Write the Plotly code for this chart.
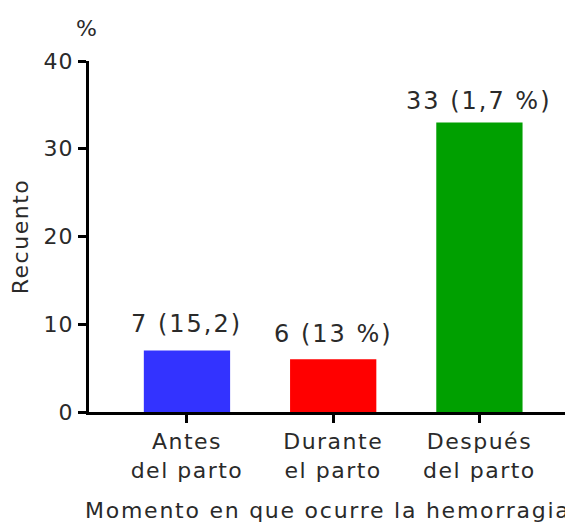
import plotly.graph_objects as go

categories = ["Antes del parto", "Durante el parto", "Después del parto"]
tick_labels = ["Antes<br>del parto", "Durante<br>el parto", "Después<br>del parto"]
counts = [7, 6, 33]
bar_labels = ["7 (15,2)", "6 (13 %)", "33 (1,7 %)"]
colors = ["#3333ff", "#ff0000", "#00a000"]
y_ticks = [0, 10, 20, 30, 40]
x_title = "Momento en que ocurre la hemorragia"
y_title = "Recuento"

FONT = "DejaVu Sans"
TXT = "#2a2a2a"
label_shifts = [11, 9, 5]


def sp(t, px):
    parts = t.split("<br>")
    return "<br>".join('<span style="letter-spacing:%spx">%s</span>' % (px, p) for p in parts)


fig = go.Figure()
fig.add_trace(go.Bar(x=categories, y=counts, marker=dict(color=colors, line=dict(width=0)),
                     width=0.59, showlegend=False, hoverinfo="skip"))

for c, v, t, s in zip(categories, counts, bar_labels, label_shifts):
    fig.add_annotation(x=c, y=v, text=sp(t, 2), showarrow=False, yanchor="bottom", yshift=s,
                       font=dict(family=FONT, size=24, color=TXT))

fig.add_annotation(xref="paper", yref="paper", x=-0.005, y=1.0, text="%", showarrow=False,
                   xanchor="center", yanchor="middle", yshift=33,
                   font=dict(family=FONT, size=22, color=TXT))

fig.add_annotation(xref="paper", yref="paper", x=0.494, y=0, text=sp(x_title, 1.75),
                   showarrow=False, xanchor="center", yanchor="middle", yshift=-98,
                   font=dict(family=FONT, size=22, color=TXT))

fig.update_layout(
    width=565, height=516,
    margin=dict(l=81, r=0, t=53, b=112),
    plot_bgcolor="white", paper_bgcolor="white",
    font=dict(family=FONT, size=22, color=TXT),
    xaxis=dict(range=[-0.67, 2.64], showline=True, linecolor="black", linewidth=3,
               tickmode="array", tickvals=categories, ticktext=[sp(t, 1.5) for t in tick_labels],
               ticks="outside", ticklen=8, tickwidth=3, tickcolor="black",
               showgrid=False, zeroline=False,
               tickfont=dict(family=FONT, size=22, color=TXT)),
    yaxis=dict(range=[0, 40], tickvals=y_ticks, ticktext=[sp(str(v), 1) for v in y_ticks],
               showline=True, linecolor="black", linewidth=3,
               ticks="outside", ticklen=8, tickwidth=3, tickcolor="black",
               showgrid=False, zeroline=False,
               title=dict(text=sp(y_title, 1.5), standoff=10,
                          font=dict(family=FONT, size=22, color=TXT)),
               tickfont=dict(family=FONT, size=22, color=TXT)),
)

fig.write_html("out.html")
